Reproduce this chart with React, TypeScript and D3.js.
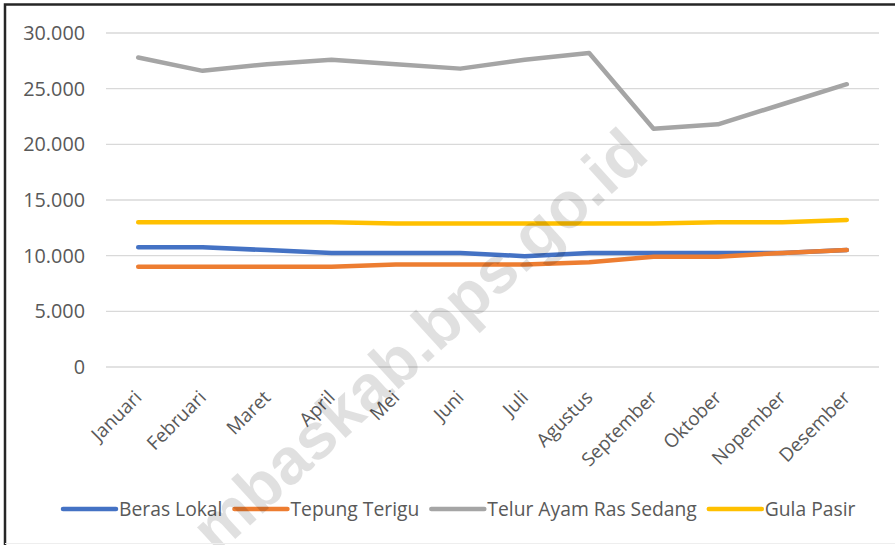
import * as d3 from 'd3';
import { useEffect, useRef } from 'react';

const width = 895;
const height = 545;

const months = [
  'Januari', 'Februari', 'Maret', 'April', 'Mei', 'Juni',
  'Juli', 'Agustus', 'September', 'Oktober', 'Nopember', 'Desember',
];
const berasLokal = [10750, 10750, 10500, 10250, 10250, 10250, 9950, 10250, 10250, 10250, 10250, 10500];
const tepungTerigu = [9000, 9000, 9000, 9000, 9200, 9200, 9200, 9400, 9900, 9900, 10250, 10500];
const telurAyam = [27800, 26600, 27200, 27600, 27200, 26800, 27600, 28200, 21400, 21800, 23600, 25400];
const gulaPasir = [13000, 13000, 13000, 13000, 12900, 12900, 12900, 12900, 12900, 13000, 13000, 13200];
const yTicks = [0, 5000, 10000, 15000, 20000, 25000, 30000];

const seriesNames = ['Beras Lokal', 'Tepung Terigu', 'Telur Ayam Ras Sedang', 'Gula Pasir'];
const seriesValues = [berasLokal, tepungTerigu, telurAyam, gulaPasir];
const colors = ['#4472C4', '#ED7D31', '#A5A5A5', '#FFC000'];

const font = '"Open Sans", "Noto Sans", sans-serif';

export default function App() {
  const ref = useRef<SVGSVGElement>(null);

  useEffect(() => {
    const svg = d3.select(ref.current);
    svg.selectAll('*').remove();

    const x = d3.scaleBand<string>().domain(months).range([106, 879]);
    const y = d3.scaleLinear().domain([0, 30000]).range([367, 33]);
    const cx = (m: string) => (x(m) ?? 0) + x.bandwidth() / 2;

    svg.append('rect').attr('width', width).attr('height', height).attr('fill', '#fff');

    // gridlines
    svg
      .append('g')
      .selectAll('line')
      .data(yTicks)
      .join('line')
      .attr('x1', 106)
      .attr('x2', 879)
      .attr('y1', (d) => y(d))
      .attr('y2', (d) => y(d))
      .attr('stroke', '#d9d9d9')
      .attr('stroke-width', 1.3);

    // y labels
    svg
      .append('g')
      .selectAll('text')
      .data(yTicks)
      .join('text')
      .attr('x', 85)
      .attr('y', (d) => y(d))
      .attr('dy', '0.35em')
      .attr('text-anchor', 'end')
      .attr('font-family', font)
      .attr('font-size', 19.8)
      .attr('fill', '#595959')
      .text((d) => (d === 0 ? '0' : d3.format(',')(d).replace(/,/g, '.')));

    // x labels
    svg
      .append('g')
      .selectAll('text')
      .data(months)
      .join('text')
      .attr('transform', (d) => `translate(${cx(d)},${394}) rotate(-45)`)
      .attr('dy', '0.35em')
      .attr('text-anchor', 'end')
      .attr('font-family', font)
      .attr('font-size', 18.9)
      .attr('fill', '#595959')
      .text((d) => d);

    // lines
    const line = d3
      .line<number>()
      .x((_, i) => cx(months[i]))
      .y((d) => y(d));

    svg
      .append('g')
      .selectAll('path')
      .data(seriesValues)
      .join('path')
      .attr('d', (d) => line(d))
      .attr('fill', 'none')
      .attr('stroke', (_, i) => colors[i])
      .attr('stroke-width', 4.5)
      .attr('stroke-linecap', 'round')
      .attr('stroke-linejoin', 'round');

    // legend
    const legend = svg.append('g');
    let lx = 63;
    const ly = 509;
    seriesNames.forEach((name, i) => {
      legend
        .append('line')
        .attr('x1', lx)
        .attr('x2', lx + 53)
        .attr('y1', ly)
        .attr('y2', ly)
        .attr('stroke', colors[i])
        .attr('stroke-width', 4.5)
        .attr('stroke-linecap', 'round');
      const t = legend
        .append('text')
        .attr('x', lx + 56)
        .attr('y', ly)
        .attr('dy', '0.35em')
        .attr('font-family', font)
        .attr('font-size', 19.3)
        .attr('fill', '#595959')
        .text(name);
      const w = (t.node() as SVGTextElement).getComputedTextLength();
      lx = lx + 56 + w + 12;
    });

    // watermark
    svg
      .append('text')
      .attr('transform', 'translate(651,158) rotate(-42.5)')
      .attr('text-anchor', 'end')
      .attr('font-family', '"Liberation Sans", Arial, sans-serif')
      .attr('font-weight', 'bold')
      .attr('font-size', 65)
      .attr('fill', '#000')
      .attr('fill-opacity', 0.12)
      .text('mbaskab.bps.go.id');

    // frame (cropped chart border)
    svg
      .append('path')
      .attr('d', `M5,${height} V4.5 H${width}`)
      .attr('fill', 'none')
      .attr('stroke', '#262626')
      .attr('stroke-width', 2.5);
    svg
      .append('line')
      .attr('x1', 5)
      .attr('x2', width)
      .attr('y1', 543.5)
      .attr('y2', 543.5)
      .attr('stroke', '#eeeeee')
      .attr('stroke-width', 1);
  }, []);

  return (
    <svg
      ref={ref}
      width={width}
      height={height}
      style={{ position: 'absolute', left: 0, top: 0, display: 'block' }}
    />
  );
}
